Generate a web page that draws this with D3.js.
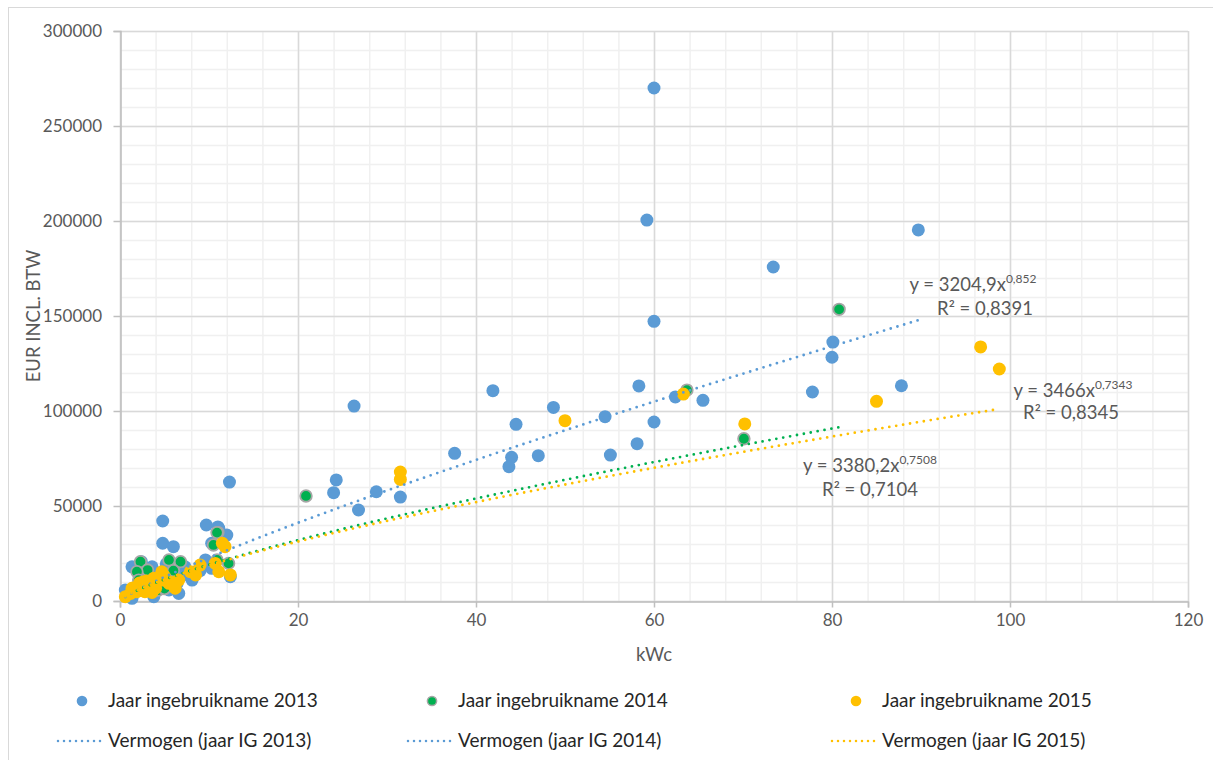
<!DOCTYPE html>
<html>
<head>
<meta charset="utf-8">
<script src="https://cdn.jsdelivr.net/npm/d3@7"></script>
<style>
  body { margin: 0; background: #fff; }
  svg { font-family: Lato, "Open Sans", "Liberation Sans", sans-serif; }
</style>
</head>
<body>
<svg id="viz" width="1213" height="760"></svg>
<script>
// kWc / EUR per year of commissioning
var kwc2013 = [60, 59.2, 89.7, 73.4, 60, 80.1, 80, 87.8, 77.8, 62.4, 65.5, 58.3, 41.9, 26.3, 48.7, 54.5, 44.5, 60,
  58.1, 37.6, 44, 43.7, 47, 55.1, 24.3, 24, 28.8, 31.5, 26.8, 12.3, 4.8, 4.8, 6, 9.7, 11, 11.1, 12, 10.3,
  3.6, 2.8, 1.35, 7.3, 8.5, 9.6, 10.3, 8.1, 3.8, 1.35, 5.5, 12.4, 0.6, 6.6, 2.4, 4.2, 5.2, 6.4, 3, 2, 7, 1, 9];
var eur2013 = [270000, 200500, 195300, 175800, 147200, 136300, 128300, 113300, 110000, 107400, 105600, 113200, 110700, 102600, 101900, 97000, 93000, 94200,
  82800, 77700, 75600, 70700, 76500, 76800, 63700, 57000, 57500, 54700, 47900, 62600, 42100, 30400, 28600, 40000, 39000, 38300, 34700, 30400,
  18000, 12800, 18000, 18000, 15400, 21600, 17200, 11000, 2300, 1400, 5800, 12800, 5800, 4000, 20700, 14500, 19500, 9000, 9000, 8000, 13500, 3500, 16000];

var kwc2014 = [80.8, 63.7, 70.1, 20.9, 11, 2.3, 3.1, 1.9, 5.5, 6.8, 6, 2.1, 4, 10.9, 10.5, 10.9, 12.2, 4.3, 3.5, 5];
var eur2014 = [153500, 111000, 85400, 55300, 36000, 20700, 16300, 15400, 21600, 20700, 16000, 11000, 11000, 36000, 29500, 21600, 19800, 5800, 8000, 6500];

var kwc2015 = [96.7, 98.8, 85, 70.2, 63.3, 50, 31.5, 31.5, 0.6, 1.2, 1.35, 1.9, 2.5, 2.8, 3.4, 4, 4.7, 4.9, 5.5, 6.2, 6.6,
  7.9, 9, 11.1, 12.4, 11.5, 11.8, 10.7, 8.5, 2.2, 3, 3.8, 5, 6, 1.6, 2.6, 3.6];
var eur2015 = [133700, 122100, 105100, 93200, 108900, 94900, 67900, 64000, 2300, 4000, 6700, 4900, 7500, 4900, 8400, 6700, 15400, 11000, 9300, 6700, 11000,
  15400, 18900, 15400, 13700, 30400, 28600, 19800, 13700, 9500, 10500, 12000, 13000, 9800, 7000, 10000, 4500];

// power trendlines as printed on the chart: y = a * x^b
var trendA = [3204.9, 3380.2, 3466];
var trendB = [0.852, 0.7508, 0.7343];
var trendCoef = ["3204,9", "3380,2", "3466"];
var trendExp = ["0,852", "0,7508", "0,7343"];
var trendR2 = ["0,8391", "0,7104", "0,8345"];

var xTicks = [0, 20, 40, 60, 80, 100, 120];
var yTicks = [0, 50000, 100000, 150000, 200000, 250000, 300000];

var colors = ["#5b9bd5", "#00b050", "#ffc000"];
var textColor = "#595959";

var svg = d3.select("#viz");
var margin = { left: 120, right: 1188, top: 31, bottom: 601 };

var x = d3.scaleLinear().domain([0, 120]).range([margin.left, margin.right]);
var y = d3.scaleLinear().domain([0, 300000]).range([margin.bottom, margin.top]);

// outer chart border
svg.append("rect").attr("x", 8.5).attr("y", 7.5).attr("width", 1210).attr("height", 770)
  .attr("fill", "none").attr("stroke", "#d9d9d9");

// gridlines, minor then major
var grid = svg.append("g");
grid.selectAll("line.vminor").data(d3.range(0, 121, 4)).enter().append("line")
  .attr("x1", function (d) { return x(d) + 0.5; }).attr("x2", function (d) { return x(d) + 0.5; })
  .attr("y1", margin.top).attr("y2", margin.bottom).attr("stroke", "#f0f0f0").attr("stroke-width", 1.5);
grid.selectAll("line.hminor").data(d3.range(0, 300001, 10000)).enter().append("line")
  .attr("y1", function (d) { return y(d) + 0.5; }).attr("y2", function (d) { return y(d) + 0.5; })
  .attr("x1", margin.left).attr("x2", margin.right).attr("stroke", "#f0f0f0").attr("stroke-width", 1.5);
grid.selectAll("line.vmajor").data(xTicks).enter().append("line")
  .attr("x1", function (d) { return x(d) + 0.5; }).attr("x2", function (d) { return x(d) + 0.5; })
  .attr("y1", margin.top).attr("y2", margin.bottom).attr("stroke", "#d9d9d9").attr("stroke-width", 1.5);
grid.selectAll("line.hmajor").data(yTicks).enter().append("line")
  .attr("y1", function (d) { return y(d) + 0.5; }).attr("y2", function (d) { return y(d) + 0.5; })
  .attr("x1", margin.left).attr("x2", margin.right).attr("stroke", "#d9d9d9").attr("stroke-width", 1.5);

// axes
var xAxis = d3.axisBottom(x).tickValues(xTicks).tickSize(6).tickPadding(6);
var yAxis = d3.axisLeft(y).tickValues(yTicks).tickSize(7).tickPadding(11.5).tickFormat(d3.format("d"));

var gx = svg.append("g").attr("transform", "translate(0," + (margin.bottom + 0.5) + ")").call(xAxis);
var gy = svg.append("g").attr("transform", "translate(" + (margin.left + 0.5) + ",0)").call(yAxis);
[gx, gy].forEach(function (g) {
  g.select(".domain").attr("stroke", "#bfbfbf").attr("stroke-width", 1.5);
  g.selectAll(".tick line").attr("stroke", "#bfbfbf").attr("stroke-width", 1.5);
  g.selectAll(".tick text").attr("fill", textColor).style("font-size", "17px")
    .style("font-family", "Lato, sans-serif");
});

svg.append("text").attr("x", x(60)).attr("y", 661).attr("text-anchor", "middle")
  .attr("fill", textColor).style("font-size", "18.5px").text("kWc");
svg.append("text").attr("transform", "translate(40," + y(150000) + ") rotate(-90)")
  .attr("text-anchor", "middle").attr("fill", textColor).style("font-size", "18.5px").text("EUR INCL. BTW");

// scatter series
var series = [
  { xs: kwc2013, ys: eur2013, color: colors[0], stroke: "none" },
  { xs: kwc2014, ys: eur2014, color: colors[1], stroke: "#a6a6a6" },
  { xs: kwc2015, ys: eur2015, color: colors[2], stroke: "none" }
];
series.forEach(function (s) {
  svg.append("g").selectAll("circle").data(d3.range(s.xs.length)).enter().append("circle")
    .attr("cx", function (i) { return x(s.xs[i]); })
    .attr("cy", function (i) { return y(s.ys[i]); })
    .attr("r", s.stroke === "none" ? 6.5 : 5.8)
    .attr("fill", s.color)
    .attr("stroke", s.stroke).attr("stroke-width", 1.8);
});

// trendlines from min to max x of each series
var line = d3.line().x(function (d) { return x(d[0]); }).y(function (d) { return y(d[1]); });
series.forEach(function (s, k) {
  var ext = d3.extent(s.xs);
  var pts = d3.range(ext[0], ext[1], 0.25).concat([ext[1]]).map(function (v) {
    return [v, trendA[k] * Math.pow(v, trendB[k])];
  });
  svg.append("path").attr("d", line(pts)).attr("fill", "none")
    .attr("stroke", s.color).attr("stroke-width", 2.8)
    .attr("stroke-linecap", "round").attr("stroke-dasharray", "0 7");
});

// equation labels
var labelPos = [[973, 291, 985, 315], [870, 472, 870, 496], [1073, 397, 1071, 419]];
labelPos.forEach(function (p, k) {
  var t = svg.append("text").attr("x", p[0]).attr("y", p[1]).attr("text-anchor", "middle")
    .attr("fill", textColor).style("font-size", "18.5px");
  t.append("tspan").text("y = " + trendCoef[k] + "x");
  t.append("tspan").attr("dy", -8).style("font-size", "12px").text(trendExp[k]);
  svg.append("text").attr("x", p[2]).attr("y", p[3]).attr("text-anchor", "middle")
    .attr("fill", textColor).style("font-size", "18.5px").text("R\u00b2 = " + trendR2[k]);
});

// legend
var legendX = [82, 432, 856];
var legendMarkerLabels = ["Jaar ingebruikname 2013", "Jaar ingebruikname 2014", "Jaar ingebruikname 2015"];
var legendLineLabels = ["Vermogen (jaar IG 2013)", "Vermogen (jaar IG 2014)", "Vermogen (jaar IG 2015)"];
var legendLineColors = [colors[0], colors[0], colors[2]];
legendX.forEach(function (lx, k) {
  svg.append("circle").attr("cx", lx).attr("cy", 701).attr("r", k === 1 ? 4.6 : 5.3)
    .attr("fill", colors[k]).attr("stroke", k === 1 ? "#a6a6a6" : "none").attr("stroke-width", 1.5);
  svg.append("text").attr("x", lx + 26).attr("y", 707).attr("fill", "#262626")
    .style("font-size", "19px").text(legendMarkerLabels[k]);
  svg.append("line").attr("x1", lx - 24).attr("x2", lx + 19).attr("y1", 741).attr("y2", 741)
    .attr("stroke", legendLineColors[k]).attr("stroke-width", 2.5)
    .attr("stroke-linecap", "round").attr("stroke-dasharray", "0 6");
  svg.append("text").attr("x", lx + 26).attr("y", 747).attr("fill", "#262626")
    .style("font-size", "19px").text(legendLineLabels[k]);
});
</script>
</body>
</html>
